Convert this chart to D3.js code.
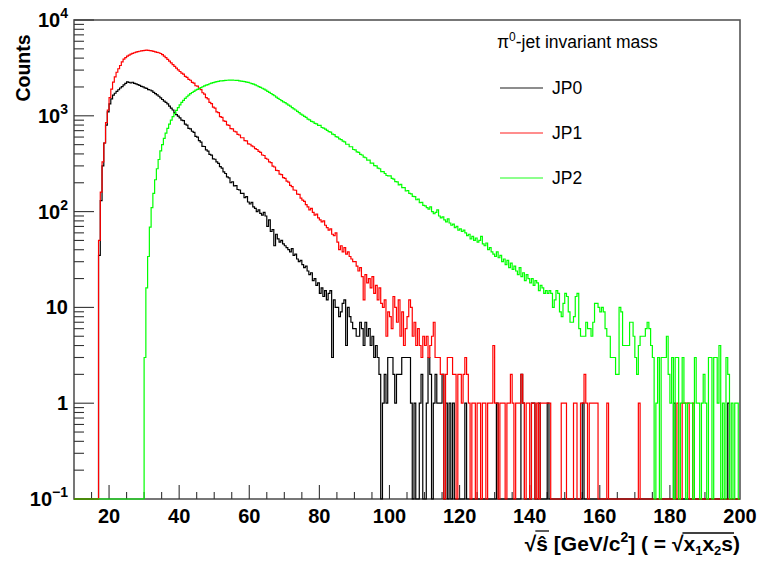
<!DOCTYPE html>
<html><head><meta charset="utf-8">
<script src="https://cdn.jsdelivr.net/npm/d3@7/dist/d3.min.js"></script>
<style>body{margin:0;background:#fff}</style>
</head><body><svg id="c" width="759" height="561"></svg>
<script>
// ---- data ----
const xMin = 10, xMax = 200, binWidth = 0.5;
const yMin = 0.1, yMax = 1e4;
const xTickValues = [20, 40, 60, 80, 100, 120, 140, 160, 180, 200];
const yTickValues = [0.1, 1, 10, 100, 1000, 10000];
const yTickBase = ["10", "1", "10", "10", "10", "10"];
const yTickExp = ["\u22121", "", "", "2", "3", "4"];
const seriesNames = ["JP0", "JP1", "JP2"];
const legendTitle = "-jet invariant mass";

const jp0 = [
0,0,0,0,0,0,0,0,0,0,
0,0,0,0,35,130,300,520,800,1100,
1330,1500,1640,1720,1800,1870,1950,2020,2100,2180,
2260,2230,2200,2240,2180,2150,2120,2080,2030,2000,
1960,1930,1880,1860,1820,1760,1700,1650,1600,1540,
1480,1420,1380,1330,1260,1200,1150,1080,1030,990,
950,900,890,820,800,740,730,690,670,610,
600,550,530,480,478,440,428,395,388,355,
352,330,318,295,285,260,250,230,225,200,
205,186,187,170,168,155,155,140,143,126,
120,125,112,108,100,104,96,92,98,90,
70,82,62,65,44,58,52,48,50,46,
44,42,40,38,41,35,36,32,30,31,
28,26,27,24,22,23,19,20,17,18,
14,16,13,15,12,14,15,3,12,10,
10,8,9,11,12,4,10,8,7,6,
6,5,5,7,6,4,7,5,6,4,
5,3,4,3,2,0,1,2,1,3,
3,3,2,1,2,2,2,3,3,3,
3,3,1,0,1,0,0,1,2,0,
0,1,3,2,0,1,2,1,1,1,
2,0,1,0,1,0,1,0,0,0,
0,0,0,1,0,0,0,0,0,0,
0,0,0,0,0,0,0,0,0,0,
0,1,0,0,0,0,0,0,0,0,
0,0,0,0,0,2,1,0,0,0,
0,1,1,0,0,1,0,0,0,0,
1,0,0,0,0,0,0,0,0,0,
0,0,0,0,0,0,0,0,0,0,
1,0,0,0,0,0,0,0,0,0,
0,0,0,0,0,0,0,0,0,0,
0,0,0,0,0,0,0,0,0,0,
0,0,0,0,0,0,0,0,0,0,
0,0,0,0,0,0,0,0,0,0,
0,0,1,0,0,0,0,0,0,0,
0,0,0,0,0,0,0,0,0,0,
0,0,0,0,0,0,0,0,0,0,
0,0,0,1,0,0,0,0,0,0
];

const jp1 = [
0,0,0,0,0,0,0,0,0,0,
0,0,0,0,50,160,330,520,850,1150,
1550,1900,2250,2550,2850,3100,3350,3650,3900,4050,
4200,4300,4400,4480,4550,4620,4680,4720,4760,4800,
4830,4850,4820,4800,4760,4700,4650,4600,4550,4470,
4350,4200,4050,3880,3720,3560,3420,3280,3140,3020,
2900,2790,2720,2580,2520,2400,2350,2230,2190,2060,
2040,1920,1880,1740,1680,1550,1500,1380,1340,1230,
1200,1100,1080,980,965,885,875,805,795,735,
730,690,680,640,630,590,590,550,548,510,
505,485,475,455,445,425,415,390,385,360,
352,330,325,298,292,270,268,246,243,226,
222,208,203,188,182,168,167,152,151,138,
132,128,118,112,104,108,98,92,94,86,
82,78,80,72,68,64,66,58,56,60,
48,40,44,38,42,36,38,34,32,30,
30,27,24,26,21,12,22,18,20,16,
21,14,17,12,16,11,10,12,5,9,
8,6,13,10,7,12,5,9,4,6,
8,12,10,5,7,4,6,4,3,5,
4,5,3,4,5,7,3,3,3,2,
2,0,2,3,3,3,2,2,0,2,
2,1,2,3,2,1,0,1,1,0,
1,1,0,1,1,0,1,1,1,4,
1,1,0,1,1,1,0,1,1,2,
1,0,1,1,1,2,1,0,1,1,
0,1,1,0,1,0,1,1,1,1,
1,1,0,0,0,0,0,0,1,1,
1,0,0,0,0,1,1,0,0,1,
1,2,1,0,1,1,1,1,1,0,
0,0,0,0,1,0,0,0,0,0,
0,0,0,0,0,0,0,0,0,0,
0,0,1,0,0,0,0,0,0,0,
0,0,0,0,0,0,0,0,0,0,
0,0,0,0,1,0,0,1,1,1,
1,0,0,1,0,0,0,0,0,0,
0,0,0,0,0,0,0,0,0,0,
0,0,0,0,0,0,0,0,0,0
];

const jp2 = [
0,0,0,0,0,0,0,0,0,0,
0,0,0,0,0,0,0,0,0,0,
0,0,0,0,0,0,0,0,0,0,
0,0,0,0,0,0,0,0,0,0,
3,16,34,69,110,155,215,280,350,430,
500,580,660,740,820,900,980,1060,1140,1220,
1300,1380,1450,1520,1580,1640,1700,1750,1800,1850,
1890,1930,1970,2010,2050,2090,2120,2160,2190,2220,
2250,2270,2290,2310,2320,2330,2340,2350,2355,2360,
2360,2350,2345,2340,2320,2300,2290,2270,2250,2230,
2200,2170,2140,2100,2060,2020,1980,1940,1900,1850,
1800,1760,1710,1660,1620,1570,1520,1480,1440,1400,
1370,1330,1290,1260,1220,1180,1150,1110,1080,1040,
1015,985,965,925,905,875,865,835,825,795,
795,755,745,725,705,685,675,645,635,605,
600,575,565,545,535,505,505,475,475,445,
440,420,415,395,390,370,365,345,345,320,
320,302,300,284,280,262,262,250,238,236,
236,222,218,206,204,190,192,178,178,164,
166,155,153,144,143,133,135,124,125,116,
115,110,106,112,100,95,98,104,90,86,
88,82,78,84,76,72,74,68,70,64,
66,62,64,60,56,58,52,55,50,53,
48,50,55,46,44,47,40,42,38,36,
34,38,33,35,30,32,28,31,26,29,
25,27,24,22,26,21,23,19,22,20,
18,20,17,19,18,15,17,16,14,15,
14,15,14,10,12,15,14,9,8,11,
14,13,9,7,7,8,13,14,6,5,
5,5,7,6,6,5,7,11,11,10,
9,10,9,6,5,5,3,3,3,2,
2,10,9,4,4,4,4,7,7,5,
3,2,4,5,5,5,6,7,6,4,
3,0,1,3,0,3,3,3,5,2,
1,3,0,3,3,0,1,3,1,0,
1,1,1,0,3,1,1,0,1,2,
1,0,3,3,0,3,3,1,4,0,
1,0,3,2,0,1,0,1,1,0
];

const seriesData = [jp0, jp1, jp2];
const seriesColors = ["#000000", "#ff0000", "#00ff00"];

// ---- layout ----
const svg = d3.select("#c");
const plot = {left: 74, right: 740, top: 20, bottom: 499};
const x = d3.scaleLinear().domain([xMin, xMax]).range([plot.left, plot.right]);
const y = d3.scaleLog().domain([yMin, yMax]).range([plot.bottom, plot.top]);
const font = "'Liberation Sans', Arial, Helvetica, sans-serif";

svg.append("defs").append("clipPath").attr("id", "clip")
  .append("rect").attr("x", plot.left).attr("y", plot.top - 1)
  .attr("width", plot.right - plot.left + 1).attr("height", plot.bottom - plot.top + 2);

// frame
svg.append("rect").attr("x", plot.left).attr("y", plot.top)
  .attr("width", plot.right - plot.left).attr("height", plot.bottom - plot.top)
  .attr("fill", "none").attr("stroke", "#555").attr("stroke-width", 1.6);

// y ticks (inside)
const yMinorVals = [];
for (let e = -1; e < 4; e++) for (let k = 2; k <= 9; k++) yMinorVals.push(k * Math.pow(10, e));
const gy = svg.append("g").attr("stroke", "#333").attr("stroke-width", 1.1);
yMinorVals.forEach(v => gy.append("line").attr("x1", plot.left).attr("x2", plot.left + 10)
  .attr("y1", y(v)).attr("y2", y(v)));
yTickValues.forEach(v => gy.append("line").attr("x1", plot.left).attr("x2", plot.left + 20)
  .attr("y1", y(v)).attr("y2", y(v)));

// x ticks (inside)
const gx = svg.append("g").attr("stroke", "#333").attr("stroke-width", 1.1);
for (let v = 15; v < xMax; v += 5) {
  const major = xTickValues.includes(v);
  gx.append("line").attr("x1", x(v)).attr("x2", x(v))
    .attr("y1", plot.bottom).attr("y2", plot.bottom - (major ? 14 : 7));
}

// y tick labels
yTickValues.forEach((v, i) => {
  const t = svg.append("text").attr("x", 68).attr("y", y(v) + 7)
    .attr("text-anchor", "end").attr("font-family", font).attr("font-weight", "bold")
    .attr("font-size", 20).attr("fill", "#000");
  t.append("tspan").text(yTickBase[i]);
  if (yTickExp[i]) t.append("tspan").attr("dy", -9).attr("font-size", 14).text(yTickExp[i]);
});

// x tick labels
xTickValues.forEach(v => {
  svg.append("text").attr("x", x(v)).attr("y", 523).attr("text-anchor", "middle")
    .attr("font-family", font).attr("font-weight", "bold").attr("font-size", 20)
    .attr("fill", "#000").text(v);
});

// y title
svg.append("text").attr("transform", "translate(30,68) rotate(-90)")
  .attr("text-anchor", "middle").attr("font-family", font).attr("font-weight", "bold")
  .attr("font-size", 19.5).text("Counts");

// x title
const xt = svg.append("text").attr("x", 0).attr("y", 551)
  .attr("font-family", font).attr("font-weight", "bold").attr("font-size", 21).attr("fill", "#000");
xt.append("tspan").text("\u221A");
xt.append("tspan").text("\u015D [GeV/c");
xt.append("tspan").attr("dy", -9).attr("font-size", 14).text("2");
xt.append("tspan").attr("dy", 9).text("] ( = \u221A");
xt.append("tspan").text("x");
xt.append("tspan").attr("dy", 3.5).attr("font-size", 13).text("1");
xt.append("tspan").attr("dy", -3.5).text("x");
xt.append("tspan").attr("dy", 3.5).attr("font-size", 13).text("2");
xt.append("tspan").attr("dy", -3.5).text("s");
xt.append("tspan").text(")");
const xtw = xt.node().getComputedTextLength();
xt.attr("x", plot.right - xtw);
{
  const full = xt.node().textContent;
  const ob = full.lastIndexOf("\u221A");
  const n = xt.node();
  const sx = n.getEndPositionOfChar(ob).x;
  const ex = n.getEndPositionOfChar(full.length - 2).x;
  svg.append("line").attr("x1", sx - 1).attr("x2", ex + 1).attr("y1", 533).attr("y2", 533)
    .attr("stroke", "#000").attr("stroke-width", 1.7);
  const fe = n.getEndPositionOfChar(1).x;
  svg.append("line").attr("x1", n.getEndPositionOfChar(0).x - 1).attr("x2", fe + 1).attr("y1", 531).attr("y2", 531)
    .attr("stroke", "#000").attr("stroke-width", 1.3);
}

// histograms
function histPoints(vals) {
  const pts = [[x(xMin), y(yMin)]];
  vals.forEach((v, i) => {
    const yy = y(Math.max(v, yMin));
    pts.push([x(xMin + i * binWidth), yy]);
    pts.push([x(xMin + (i + 1) * binWidth), yy]);
  });
  pts.push([x(xMax), y(yMin)]);
  return pts;
}
const gh = svg.append("g").attr("clip-path", "url(#clip)");
seriesData.forEach((vals, k) => {
  gh.append("path").attr("d", d3.line()(histPoints(vals)))
    .attr("fill", "none").attr("stroke", seriesColors[k]).attr("stroke-width", 1.2)
    .attr("stroke-linejoin", "miter");
});

// legend
const lt = svg.append("text").attr("x", 497).attr("y", 48).attr("font-family", font)
  .attr("font-size", 17.5).attr("fill", "#000");
lt.append("tspan").text("\u03C0");
lt.append("tspan").attr("dy", -7).attr("font-size", 12).text("0");
lt.append("tspan").attr("dy", 7).text(legendTitle);
const legendY = [88, 133, 178];
seriesNames.forEach((name, k) => {
  svg.append("line").attr("x1", 500).attr("x2", 543).attr("y1", legendY[k]).attr("y2", legendY[k])
    .attr("stroke", seriesColors[k]).attr("stroke-width", 1.6).attr("stroke-opacity", 0.6);
  svg.append("text").attr("x", 552).attr("y", legendY[k] + 6).attr("font-family", font)
    .attr("font-size", 17.5).attr("fill", "#000").text(name);
});
</script></body></html>
